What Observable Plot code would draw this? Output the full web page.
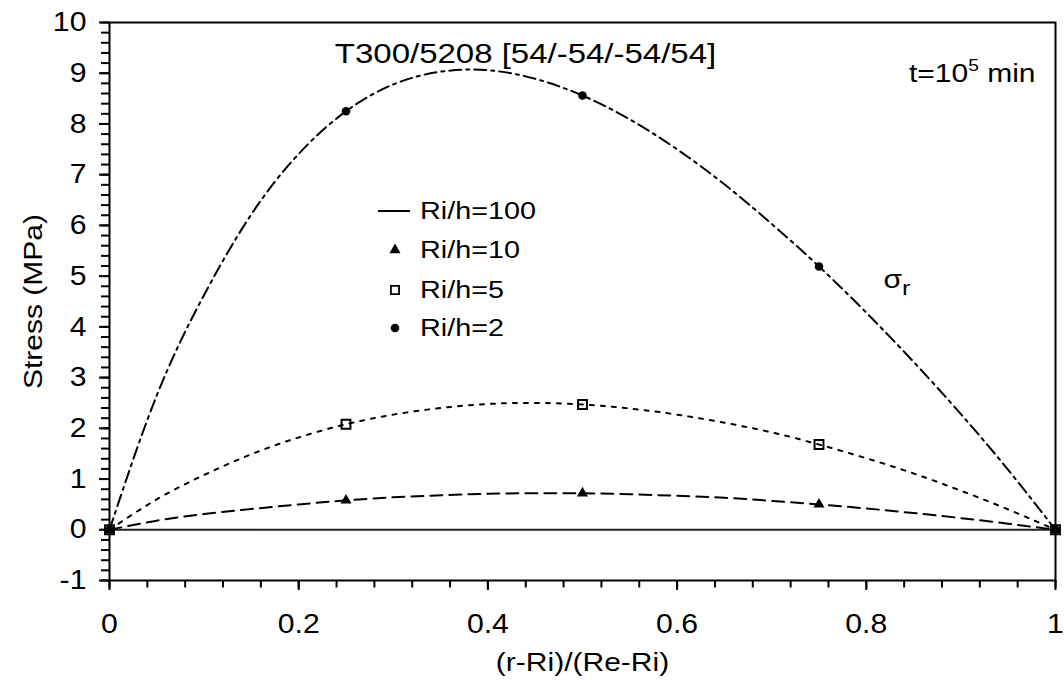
<!DOCTYPE html>
<html><head><meta charset="utf-8">
<script src="https://cdn.jsdelivr.net/npm/d3@7"></script>
<script src="https://cdn.jsdelivr.net/npm/@observablehq/plot@0.6"></script>
<style>
body{margin:0;background:#fff;}
#chart svg{display:block;}
</style></head><body><div id="chart"></div>
<script>
// ---- data ----
const xs      = [0,0.05,0.1,0.15,0.2,0.25,0.3,0.35,0.4,0.45,0.5,0.55,0.6,0.65,0.7,0.75,0.8,0.85,0.9,0.95,1];
const riH2    = [0,2.65,4.63,6.22,7.41,8.25,8.78,9.03,9.06,8.89,8.56,8.09,7.50,6.81,6.03,5.19,4.28,3.31,2.28,1.18,0];
const riH5    = [0,0.60,1.08,1.49,1.82,2.08,2.27,2.40,2.48,2.50,2.47,2.39,2.27,2.11,1.92,1.68,1.41,1.11,0.77,0.40,0];
const riH10   = [0,0.18,0.31,0.41,0.50,0.58,0.64,0.68,0.71,0.72,0.72,0.70,0.67,0.63,0.57,0.50,0.42,0.33,0.23,0.12,0];
const riH100  = [0,0,0,0,0,0,0,0,0,0,0,0,0,0,0,0,0,0,0,0,0];
const markerX = [0,0.25,0.5,0.75,1];
const markH2  = [0,8.25,8.56,5.19,0];
const markH5  = [0,2.08,2.47,1.68,0];
const markH10 = [0,0.58,0.72,0.50,0];
const xTicks  = [0,0.2,0.4,0.6,0.8,1];
const xMinor  = [0,0.04,0.08,0.12,0.16,0.2,0.24,0.28,0.32,0.36,0.4,0.44,0.48,0.52,0.56,0.6,0.64,0.68,0.72,0.76,0.8,0.84,0.88,0.92,0.96,1];
const yTicks  = [-1,0,1,2,3,4,5,6,7,8,9,10];
const yMinor  = d3.range(-50, 501, 10).map(v => v / 50);
const legendLabels = ["Ri/h=100","Ri/h=10","Ri/h=5","Ri/h=2"];
const titleText = "T300/5208 [54/-54/-54/54]";
const xLabel = "(r-Ri)/(Re-Ri)";
const yLabel = "Stress (MPa)";

const toRows = (ys, s) => xs.map((x, i) => ({x, y: ys[i], s}));
const toMarks = (ys) => markerX.map((x, i) => ({x, y: ys[i]}));

const font = '"Liberation Sans", Arial, sans-serif';
const svg = Plot.plot({
  width: 1064, height: 693,
  marginLeft: 109, marginRight: 9, marginTop: 22, marginBottom: 113,
  style: {fontFamily: font, fontSize: "25px", color: "#000", background: "#fff"},
  x: {domain: [0, 1]},
  y: {domain: [-1, 10]},
  marks: [
    Plot.axisX(xMinor, {tickSize: 7.5, text: null, label: null, strokeWidth: 2}),
    Plot.axisX(xTicks, {tickSize: 10, tickPadding: 23, label: null, strokeWidth: 2, fontSize: 27, tickFormat: d => String(d)}),
    Plot.axisY(yMinor, {tickSize: 8, text: null, label: null, strokeWidth: 2}),
    Plot.axisY(yTicks, {tickSize: 10, tickPadding: 13, label: null, strokeWidth: 2, fontSize: 27, tickFormat: d => String(d)}),
    Plot.line(toRows(riH100, "100"), {x: "x", y: "y", stroke: "#222", strokeWidth: 2}),
    Plot.line(toRows(riH10, "10"), {x: "x", y: "y", curve: "natural", stroke: "#000", strokeWidth: 2, strokeDasharray: "12,7"}),
    Plot.line(toRows(riH5, "5"), {x: "x", y: "y", curve: "natural", stroke: "#000", strokeWidth: 2, strokeDasharray: "4,7"}),
    Plot.line(toRows(riH2, "2"), {x: "x", y: "y", curve: "natural", stroke: "#000", strokeWidth: 2, strokeDasharray: "12,5,3,5"}),
    Plot.dot(toMarks(markH5), {x: "x", y: "y", symbol: "square", r: 5, fill: "none", stroke: "#000", strokeWidth: 2}),
    Plot.dot(toMarks(markH10), {x: "x", y: "y", symbol: "triangle", r: 4.1, fill: "#000"}),
    Plot.dot(toMarks(markH2), {x: "x", y: "y", symbol: "circle", r: 4.3, fill: "#000"}),
    Plot.frame({stroke: "#000", strokeWidth: 2}),
    Plot.text([titleText], {text: d => d, frameAnchor: "top-left", dx: 416, dy: 21, textAnchor: "middle", fontSize: 27.5}),
    Plot.text(["t=10"], {text: d => d, frameAnchor: "top-right", dx: -20, dy: 42, textAnchor: "end", className: "tnote"}),
    Plot.text(["σ"], {text: d => d, frameAnchor: "top-left", dx: 774, dy: 248, textAnchor: "start", className: "signote"}),
    Plot.text([xLabel], {text: d => d, frameAnchor: "bottom", dy: 90, textAnchor: "middle"}),
    Plot.text([yLabel], {text: d => d, frameAnchor: "left", dx: -76, rotate: -90, textAnchor: "middle"})
  ]
});

const root = d3.select(svg);
// superscript / subscript
const tn = root.select(".tnote text");
tn.append("tspan").attr("font-size", 16).attr("dy", -11).text("5");
tn.append("tspan").attr("dy", 11).text(" min");
const sg = root.select(".signote text");
sg.append("tspan").attr("font-size", 21).attr("dy", 7).text("r");

// legend
const lg = root.append("g").attr("class", "legend");
const rowsY = [211, 250, 290, 328];
lg.append("line").attr("x1", 378).attr("x2", 410).attr("y1", rowsY[0]).attr("y2", rowsY[0])
  .attr("stroke", "#000").attr("stroke-width", 2);
lg.append("path").attr("d", d3.symbol(d3.symbolTriangle, Math.PI * 4.1 * 4.1)())
  .attr("transform", `translate(395,${rowsY[1]})`).attr("fill", "#000");
lg.append("path").attr("d", d3.symbol(d3.symbolSquare, Math.PI * 4.6 * 4.6)())
  .attr("transform", `translate(395,${rowsY[2]})`).attr("fill", "none").attr("stroke", "#000").attr("stroke-width", 1.8);
lg.append("circle").attr("cx", 395).attr("cy", rowsY[3]).attr("r", 4.3).attr("fill", "#000");
legendLabels.forEach((t, i) => {
  lg.append("text").attr("x", 420).attr("y", rowsY[i]).attr("dy", "0.35em")
    .attr("text-anchor", "start").attr("font-size", 24).attr("fill", "#000").text(t);
});

// widen glyphs horizontally to match the reference's wide sans lettering
root.selectAll("text").each(function() {
  const isTick = !!this.closest('[aria-label$="tick label"]');
  const k = isTick ? 1.12 : 1.2;
  const x = +(this.getAttribute("x") || 0);
  const t = this.getAttribute("transform") || "";
  this.setAttribute("transform", `${t} translate(${x},0) scale(${k},1) translate(${-x},0)`);
});

document.getElementById("chart").appendChild(svg);
</script>
</body></html>
